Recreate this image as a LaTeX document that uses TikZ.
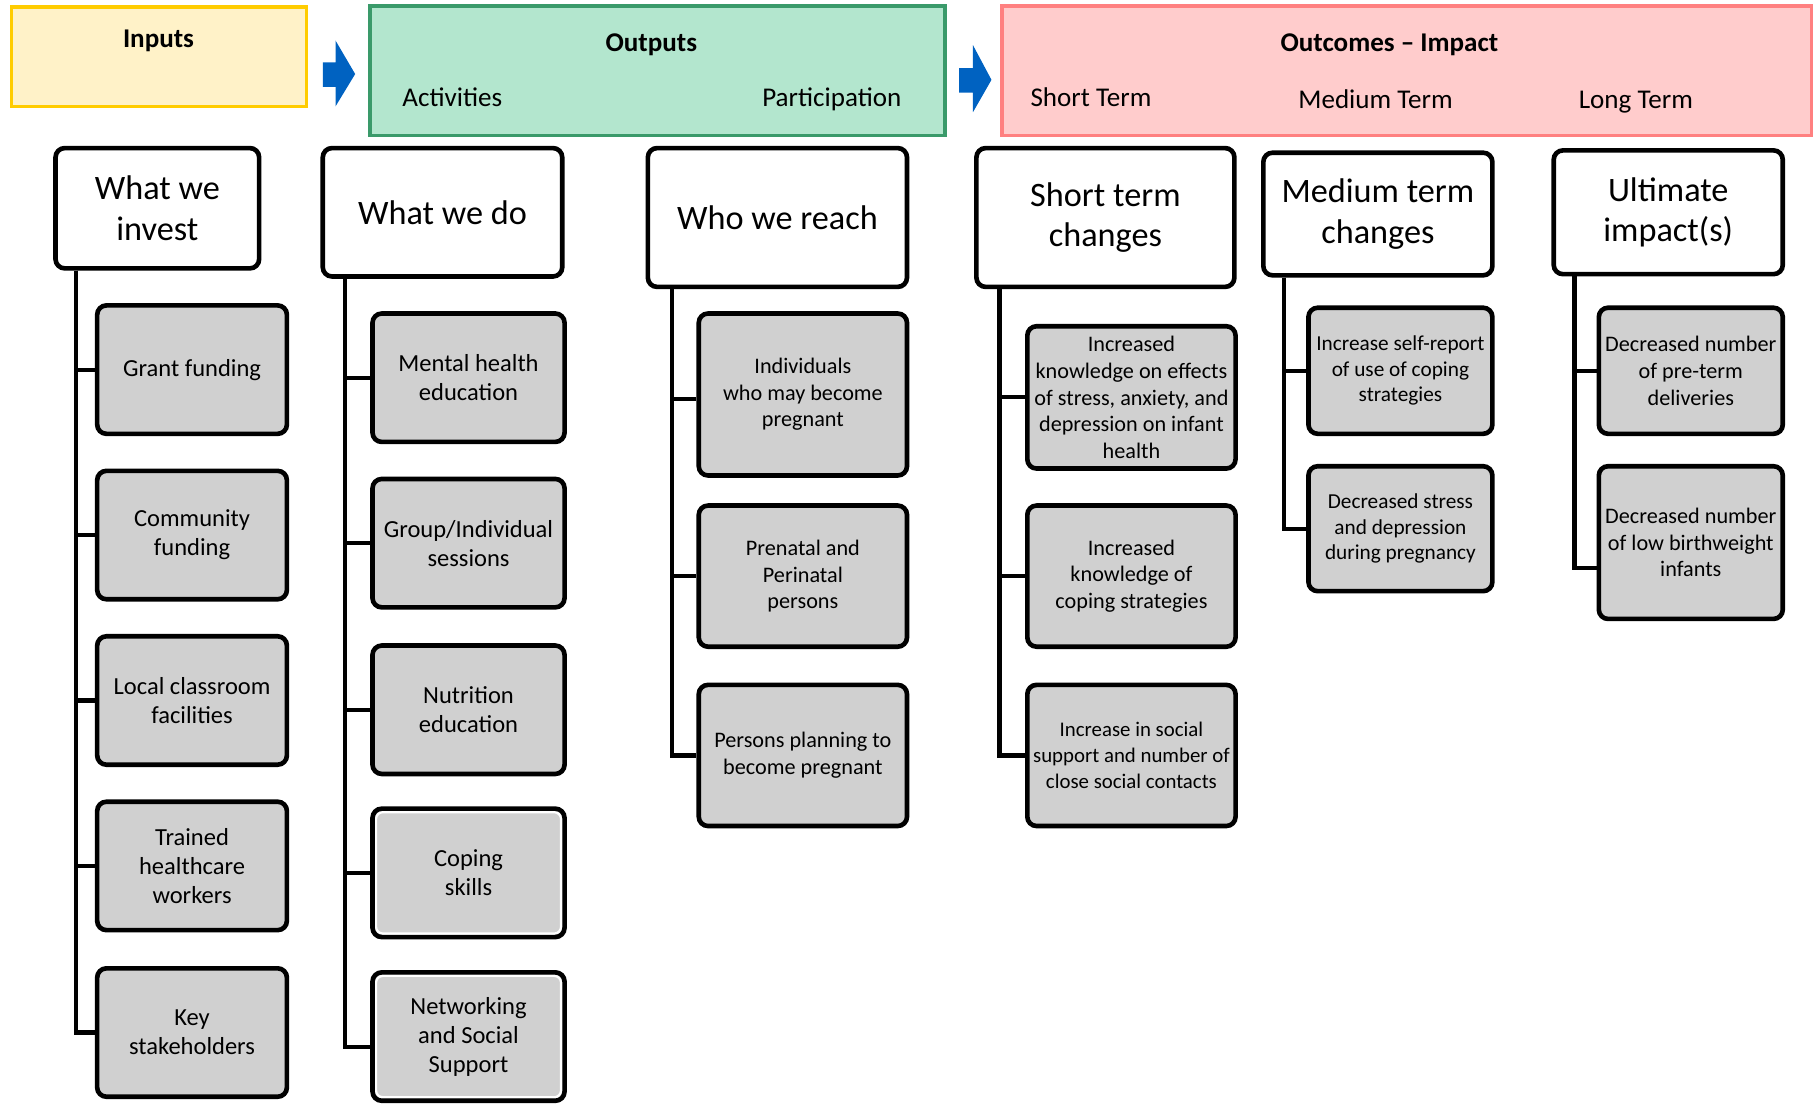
\documentclass[tikz,border=0pt]{standalone}
\usepackage{fontspec}
\setmainfont{Carlito}

\definecolor{inyellow}{HTML}{FFF2C8}
\definecolor{inborder}{HTML}{FFCC00}
\definecolor{outgreen}{HTML}{B3E6CE}
\definecolor{outborder}{HTML}{3A9A6A}
\definecolor{impink}{HTML}{FFCCCC}
\definecolor{imborder}{HTML}{FF8080}
\definecolor{boxgray}{HTML}{D0D0D0}
\definecolor{arrowblue}{HTML}{0062C1}

\tikzset{
  band/.style={draw, line width=1.5pt, inner sep=0pt},
  bandtext/.style={inner sep=0pt, text height=8pt, text depth=2.6pt, font=\fontsize{11.7}{14}\selectfont},
  head/.style={draw, line width=2pt, rounded corners=4pt, fill=white, align=center,
    inner sep=1pt, font=\fontsize{14.8}{17.5}\selectfont},
  item/.style={draw, line width=2pt, rounded corners=4pt, fill=boxgray, align=center, inner sep=1pt},
  rim/.style={path picture={\draw[white, line width=1pt, rounded corners=3pt]
    ([shift={(1.5pt,1.5pt)}]path picture bounding box.south west) rectangle
    ([shift={(-1.5pt,-1.5pt)}]path picture bounding box.north east);}},
  trunk/.style={line width=1.8pt},
  big/.style={font=\fontsize{10.6}{12.5}\selectfont},
  mid/.style={font=\fontsize{9.6}{11.5}\selectfont},
  small/.style={font=\fontsize{9.2}{11}\selectfont}
}

\begin{document}
\begin{tikzpicture}[x=0.5pt, y=-0.5pt]

  \useasboundingbox (0,0) rectangle (1568,956);

  \node[band, fill=inyellow, draw=inborder, minimum width=127.5pt, minimum height=43pt] (inputs) at (137.5,49) {};
  \node[band, fill=outgreen, draw=outborder, minimum width=248.5pt, minimum height=56pt] (outputs) at (568.5,61) {};
  \node[band, fill=impink, draw=imborder, minimum width=350pt, minimum height=56pt] (outcomes) at (1216,61) {};

  \node[bandtext, font=\fontsize{11.7}{14}\selectfont\bfseries] (tinp) at (137,36) {Inputs};
  \node[bandtext, font=\fontsize{11.7}{14}\selectfont\bfseries] (tout) at (563,39) {Outputs};
  \node[bandtext] (tact) at (391,87) {Activities};
  \node[bandtext] (tpart) at (719,87) {Participation};
  \node[bandtext, font=\fontsize{11.7}{14}\selectfont\bfseries] (toc) at (1201,39) {Outcomes – Impact};
  \node[bandtext] (tshort) at (943,87) {Short Term};
  \node[bandtext] (tmed) at (1189,88) {Medium Term};
  \node[bandtext] (tlong) at (1414,88) {Long Term};

  \fill[arrowblue] (279,54) -- (290,54) -- (290,35) -- (307,64) -- (290,92) -- (290,75) -- (279,75) -- cycle;
  \fill[arrowblue] (829,59) -- (841,59) -- (841,39) -- (857,69) -- (841,97) -- (841,80) -- (829,80) -- cycle;

  \node[head, minimum width=88pt, minimum height=52pt] (inv) at (136,180) {What we\\invest};
  \node[head, minimum width=103.5pt, minimum height=55.5pt] (do) at (382.5,183.5) {What we do};
  \node[head, minimum width=112pt, minimum height=60pt] (reach) at (672,188) {Who we reach};
  \node[head, minimum width=111.5pt, minimum height=60pt] (st) at (955.5,188) {Short term\\changes};
  \node[head, minimum width=99pt, minimum height=53pt] (mt) at (1191,185) {Medium term\\changes};
  \node[head, minimum width=99pt, minimum height=53.5pt] (lt) at (1442,183.5) {Ultimate\\impact(s)};

  \node[item, big, minimum width=82pt, minimum height=55.5pt] (inv1) at (166,319.5) {Grant funding};
  \node[item, big, minimum width=82pt, minimum height=55.5pt] (inv2) at (166,462.5) {Community\\funding};
  \node[item, big, minimum width=82pt, minimum height=55.5pt] (inv3) at (166,605.5) {Local classroom\\facilities};
  \node[item, big, minimum width=82pt, minimum height=55.5pt] (inv4) at (166,748.5) {Trained\\healthcare\\workers};
  \node[item, big, minimum width=82pt, minimum height=55.5pt] (inv5) at (166,892.5) {Key\\stakeholders};

  \node[item, big, minimum width=83pt, minimum height=55.5pt] (do1) at (405,326.5) {Mental health\\education};
  \node[item, big, minimum width=83pt, minimum height=55.5pt] (do2) at (405,469.5) {Group/Individual\\sessions};
  \node[item, big, minimum width=83pt, minimum height=55.5pt] (do3) at (405,613.5) {Nutrition\\education};
  \node[item, big, rim, minimum width=83pt, minimum height=55.5pt] (do4) at (405,754.5) {Coping\\skills};
  \node[item, big, rim, minimum width=83pt, minimum height=55.5pt] (do5) at (405,896) {Networking\\and Social\\Support};

  \node[item, mid, minimum width=90pt, minimum height=70pt] (reach1) at (694,341) {Individuals\\who may become\\pregnant};
  \node[item, mid, minimum width=90pt, minimum height=61pt] (reach2) at (694,498) {Prenatal and\\Perinatal\\persons};
  \node[item, mid, minimum width=90pt, minimum height=61pt] (reach3) at (694,653) {Persons planning to\\become pregnant};

  \node[item, mid, minimum width=90pt, minimum height=61.5pt] (st1) at (978,343.5) {Increased\\knowledge on effects\\of stress, anxiety, and\\depression on infant\\health};
  \node[item, mid, minimum width=90pt, minimum height=61pt] (st2) at (978,498) {Increased\\knowledge of\\coping strategies};
  \node[item, font=\fontsize{9}{11.2}\selectfont, minimum width=90pt, minimum height=61pt] (st3) at (978,653) {Increase in social\\support and number of\\close social contacts};

  \node[item, small, minimum width=79.5pt, minimum height=54.5pt] (mt1) at (1210.5,320.5) {Increase self-report\\of use of coping\\strategies};
  \node[item, small, minimum width=79.5pt, minimum height=54pt] (mt2) at (1210.5,457) {Decreased stress\\and depression\\during pregnancy};

  \node[item, mid, minimum width=79.5pt, minimum height=54.5pt] (lt1) at (1461.5,320.5) {Decreased number\\of pre-term\\deliveries};
  \node[item, mid, minimum width=79.5pt, minimum height=66pt] (lt2) at (1461.5,469) {Decreased number\\of low birthweight\\infants};

  \coordinate (tinv) at ([xshift=10pt]inv.south west);
  \coordinate (tdo) at ([xshift=10.5pt]do.south west);
  \coordinate (treach) at ([xshift=11.5pt]reach.south west);
  \coordinate (tst) at ([xshift=11pt]st.south west);
  \coordinate (tmt) at ([xshift=10pt]mt.south west);
  \coordinate (tlt) at ([xshift=10pt]lt.south west);

  \draw[trunk] (tinv) |- (inv1.west);
  \draw[trunk] (tinv) |- (inv2.west);
  \draw[trunk] (tinv) |- (inv3.west);
  \draw[trunk] (tinv) |- (inv4.west);
  \draw[trunk] (tinv) |- (inv5.west);

  \draw[trunk] (tdo) |- (do1.west);
  \draw[trunk] (tdo) |- (do2.west);
  \draw[trunk] (tdo) |- (do3.west);
  \draw[trunk] (tdo) |- (do4.west);
  \draw[trunk] (tdo) |- ([yshift=-4.5pt]do5.west);

  \draw[trunk] (treach) |- ([yshift=-2pt]reach1.west);
  \draw[trunk] (treach) |- (reach2.west);
  \draw[trunk] (treach) |- (reach3.west);

  \draw[trunk] (tst) |- (st1.west);
  \draw[trunk] (tst) |- (st2.west);
  \draw[trunk] (tst) |- (st3.west);

  \draw[trunk] (tmt) |- (mt1.west);
  \draw[trunk] (tmt) |- (mt2.west);

  \draw[trunk] (tlt) |- (lt1.west);
  \draw[trunk] (tlt) |- ([yshift=-11pt]lt2.west);
\end{tikzpicture}
\end{document}
